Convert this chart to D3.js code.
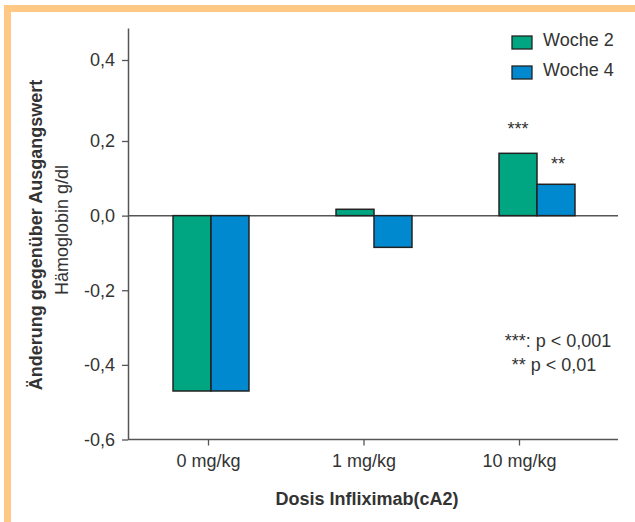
<!DOCTYPE html>
<html>
<head>
<meta charset="utf-8">
<script src="https://cdn.jsdelivr.net/npm/d3@7"></script>
<style>
  body { margin: 0; background: #fff; }
  text { font-family: "Liberation Sans", Arial, sans-serif; fill: #333; }
</style>
</head>
<body>
<svg width="635" height="522"></svg>
<script>
// data
var doses = ['0 mg/kg', '1 mg/kg', '10 mg/kg'];
var weeks = ['Woche 2', 'Woche 4'];
var woche2 = [-0.47, 0.017, 0.167];
var woche4 = [-0.47, -0.085, 0.084];
var stars = [['', ''], ['', ''], ['***', '**']];
var yTicks = [-0.6, -0.4, -0.2, 0.0, 0.2, 0.4];
var notes = ['***: p < 0,001', '** p < 0,01'];

var colors = ['#00a682', '#0089ce'];
var svg = d3.select('svg');

// orange frame
svg.append('rect').attr('x', 7.5).attr('y', 8.5).attr('width', 700).attr('height', 600)
    .attr('fill', 'none').attr('stroke', '#ffc985').attr('stroke-width', 7);

var left = 128, right = 618;
// the original axis is not quite even, so use a polylinear scale
var y = d3.scaleLinear().domain([-0.6, 0.2, 0.4, 0.5]).range([439.5, 141, 60, 28]);

var x = d3.scaleBand().domain(doses).range([129.5, 618.5]).paddingInner(0.534).paddingOuter(0.267);
var xs = d3.scaleBand().domain(weeks).range([0, x.bandwidth()]);
var xTick = d3.scalePoint().domain(doses).range([208, 519]);

var fmt = function(d) { return d3.format('.1f')(d).replace('.', ',').replace('−', '-'); };

// y axis
var ya = svg.append('g').attr('transform', 'translate(' + left + ',0)')
    .call(d3.axisLeft(y).tickValues(yTicks).tickSize(6).tickPadding(7).tickFormat(fmt).tickSizeOuter(0));
ya.select('.domain').attr('stroke', '#555').attr('stroke-width', 1.5);
ya.selectAll('.tick line').attr('stroke', '#555').attr('stroke-width', 1.3);
ya.selectAll('.tick text').attr('font-size', 18).attr('font-family', '"Liberation Sans", Arial, sans-serif').attr('fill', '#333');

// x axis
var xa = svg.append('g').attr('transform', 'translate(0,' + y(-0.6) + ')')
    .call(d3.axisBottom(xTick).tickSize(6).tickPadding(9).tickSizeOuter(0));
xa.select('.domain').remove();
xa.selectAll('.tick line').attr('stroke', '#555').attr('stroke-width', 1.3);
xa.selectAll('.tick text').attr('font-size', 18).attr('font-family', '"Liberation Sans", Arial, sans-serif').attr('fill', '#333');
svg.append('line').attr('x1', left).attr('x2', right).attr('y1', y(-0.6)).attr('y2', y(-0.6))
    .attr('stroke', '#555').attr('stroke-width', 1.5);

// zero line
svg.append('line').attr('x1', left).attr('x2', right).attr('y1', y(0)).attr('y2', y(0))
    .attr('stroke', '#555').attr('stroke-width', 1.5);

// bars
var series = [woche2, woche4];
series.forEach(function(vals, s) {
    svg.selectAll('.bar' + s).data(vals).enter().append('rect')
        .attr('x', function(d, i) { return x(doses[i]) + xs(weeks[s]); })
        .attr('y', function(d) { return y(Math.max(0, d)); })
        .attr('width', xs.bandwidth())
        .attr('height', function(d) { return Math.abs(y(d) - y(0)); })
        .attr('fill', colors[s]).attr('stroke', '#222').attr('stroke-width', 1.5);
    svg.selectAll('.star' + s).data(vals).enter().append('text')
        .attr('x', function(d, i) { return x(doses[i]) + xs(weeks[s]) + xs.bandwidth() / 2 + (s == 0 ? 0 : 2); })
        .attr('y', function(d) { return y(d) - (s == 0 ? 18 : 14); })
        .attr('text-anchor', 'middle').attr('font-size', 18)
        .text(function(d, i) { return stars[i][s]; });
});

// legend
weeks.forEach(function(w, i) {
    svg.append('rect').attr('x', 512).attr('y', 36 + i * 30).attr('width', 20).attr('height', 13)
        .attr('fill', colors[i]).attr('stroke', '#222').attr('stroke-width', 1.3);
    svg.append('text').attr('x', 543).attr('y', 46 + i * 30).attr('font-size', 18).text(w);
});

// notes
svg.append('text').attr('x', 558).attr('y', 347).attr('text-anchor', 'middle').attr('font-size', 18).text(notes[0]);
svg.append('text').attr('x', 554).attr('y', 371).attr('text-anchor', 'middle').attr('font-size', 18).text(notes[1]);

// axis titles
svg.append('text').attr('x', 367).attr('y', 505).attr('text-anchor', 'middle')
    .attr('font-size', 18).attr('font-weight', 'bold').text('Dosis Infliximab(cA2)');
svg.append('text').attr('transform', 'translate(42,235) rotate(-90)').attr('text-anchor', 'middle')
    .attr('font-size', 18).attr('font-weight', 'bold').text('Änderung gegenüber Ausgangswert');
svg.append('text').attr('transform', 'translate(68,230) rotate(-90)').attr('text-anchor', 'middle')
    .attr('font-size', 18).text('Hämoglobin g/dl');
</script>
</body>
</html>
